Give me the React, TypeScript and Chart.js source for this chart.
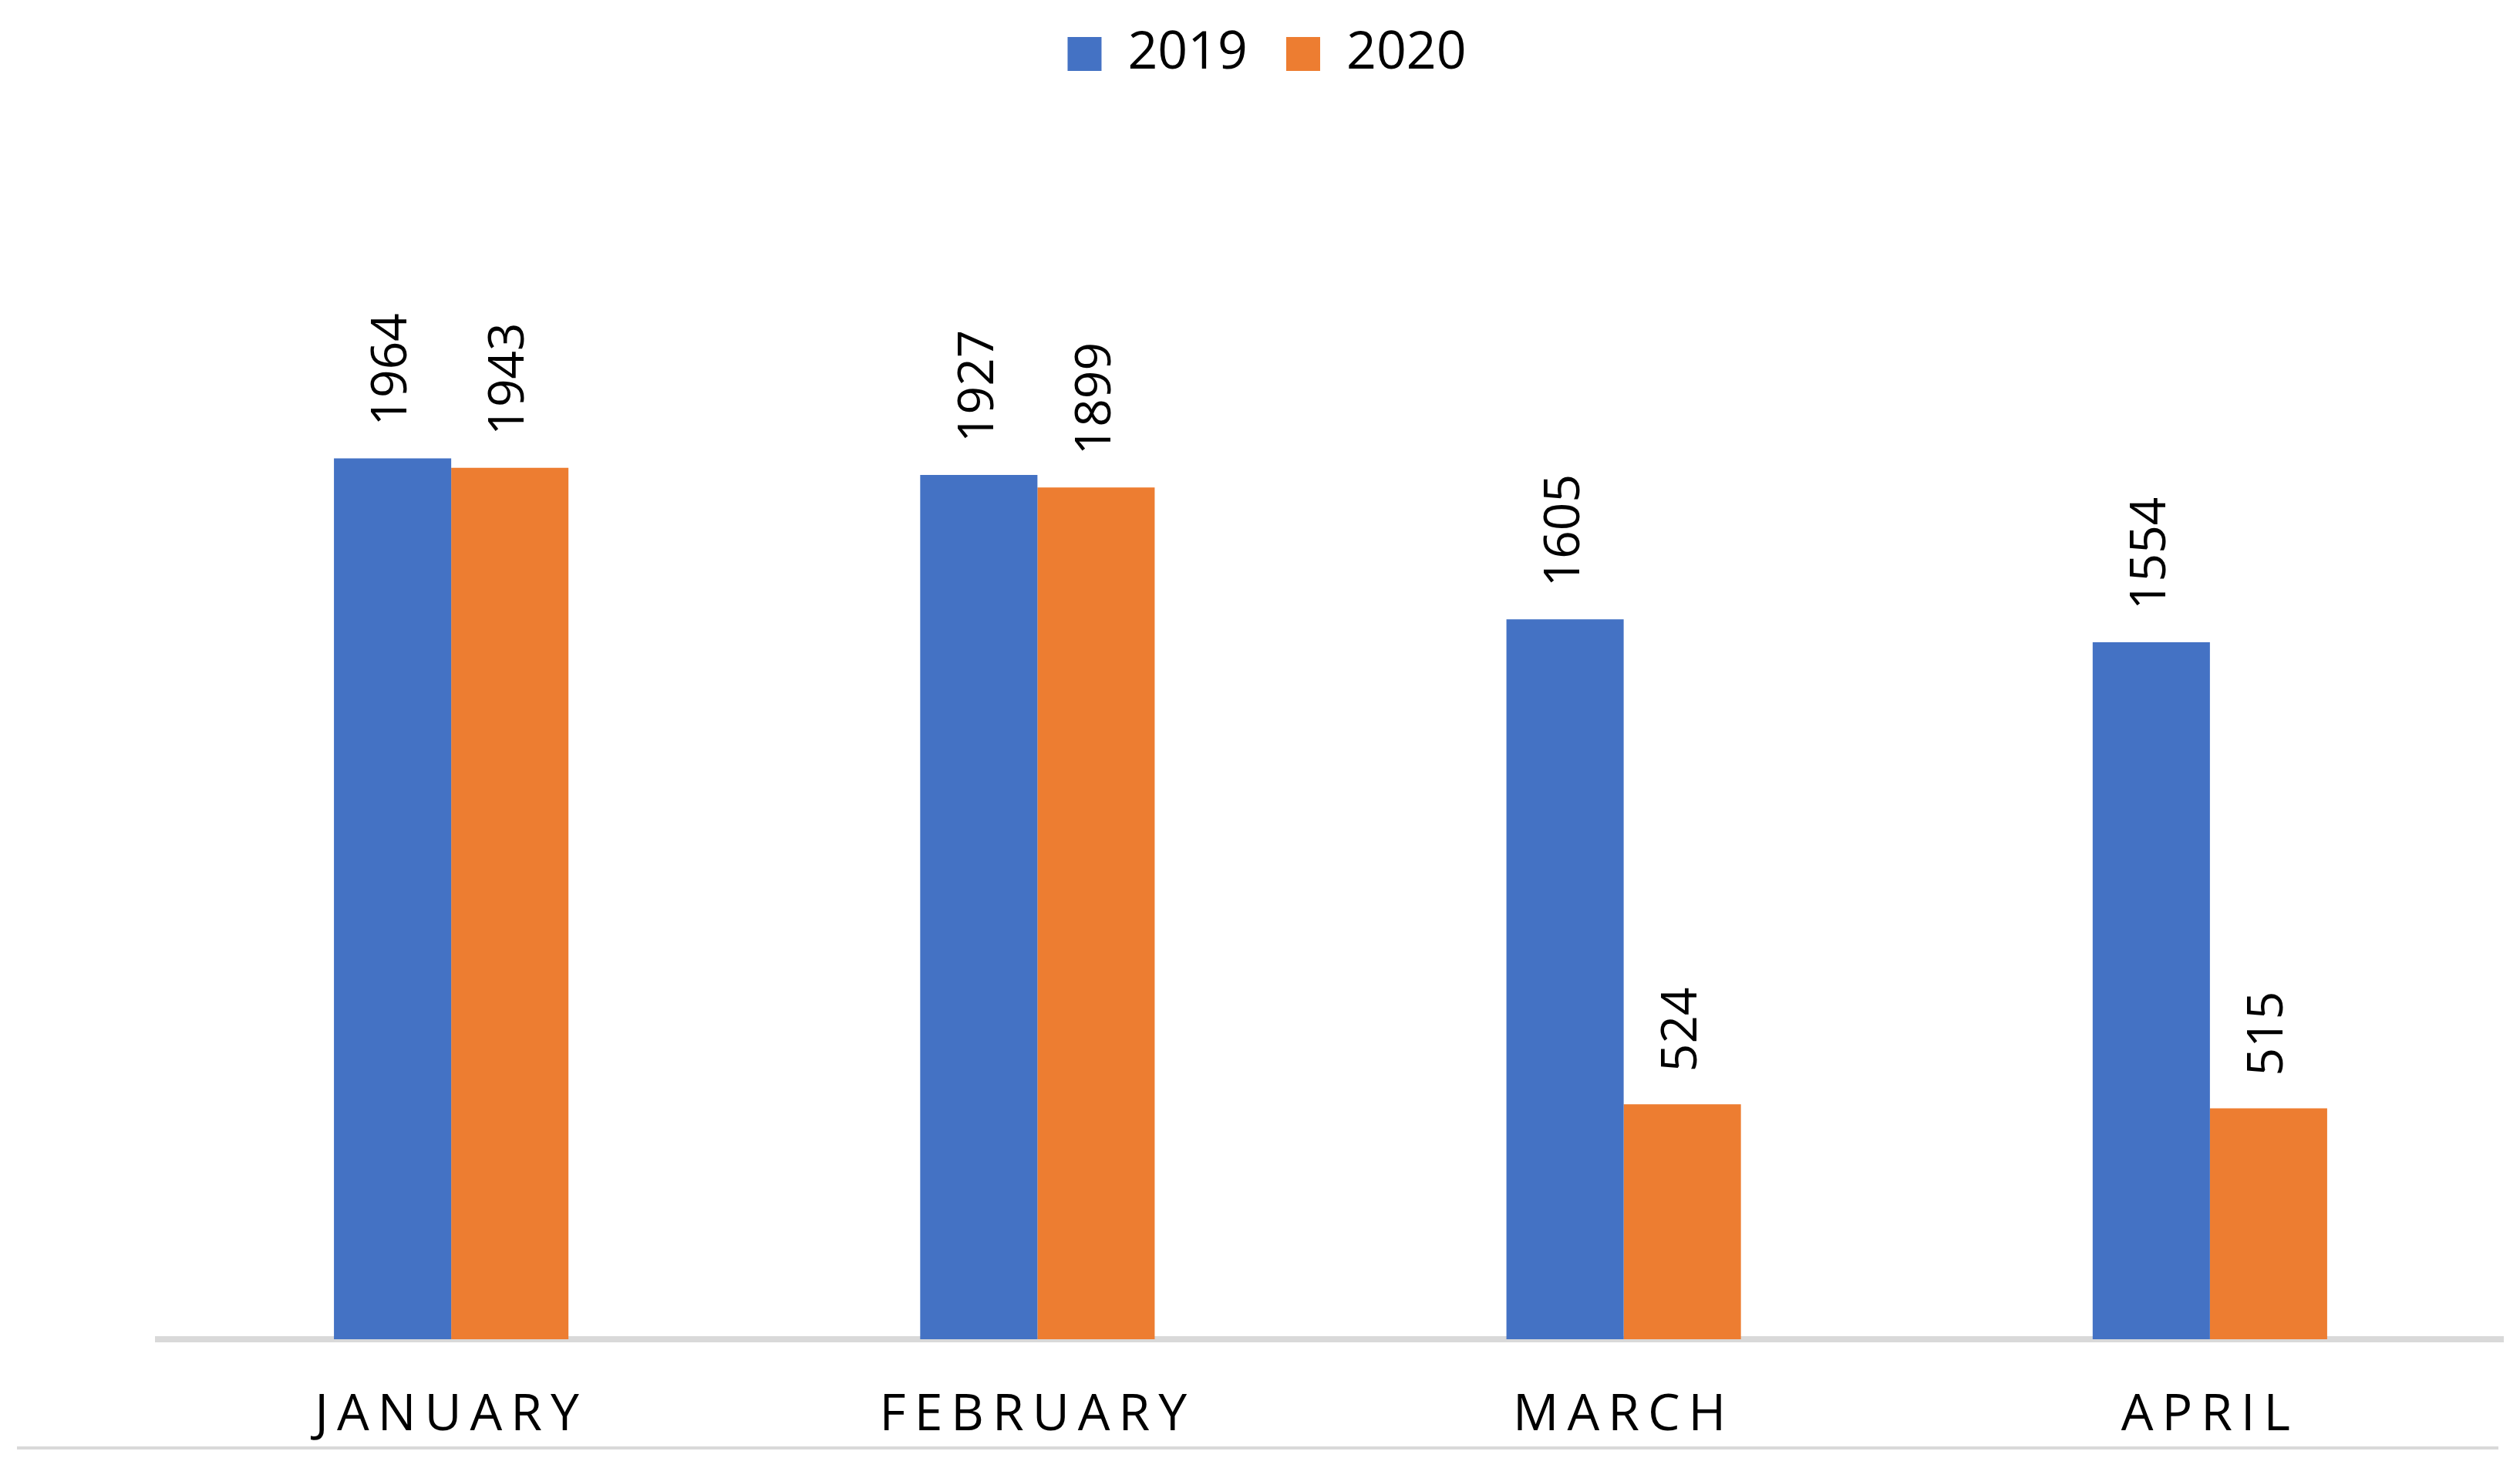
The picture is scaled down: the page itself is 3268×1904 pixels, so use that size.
import React, { useEffect, useRef } from "react";
import { Chart, registerables } from "chart.js";

Chart.register(...registerables);

const categories = ["JANUARY", "FEBRUARY", "MARCH", "APRIL"];
const seriesNames = ["2019", "2020"];
const values2019 = [1964, 1927, 1605, 1554];
const values2020 = [1943, 1899, 524, 515];
const seriesColors = ["#4472C4", "#ED7D31"];

const FONT = "'Open Sans', 'Noto Sans', sans-serif";

const rotatedLabels = {
  id: "rotatedLabels",
  afterDatasetsDraw(chart: any) {
    const ctx = chart.ctx;
    chart.data.datasets.forEach((ds: any, di: number) => {
      const meta = chart.getDatasetMeta(di);
      meta.data.forEach((el: any, i: number) => {
        const v = ds.data[i];
        ctx.save();
        ctx.translate(el.x, el.y - 42);
        ctx.rotate(-Math.PI / 2);
        ctx.font = `64px ${FONT}`;
        ctx.fillStyle = "#000";
        ctx.textAlign = "left";
        ctx.textBaseline = "middle";
        ctx.fillText(String(v), 0, 0);
        ctx.restore();
      });
    });
  },
};

const spacedTicks = {
  id: "spacedTicks",
  beforeDraw(chart: any) {
    const xs: any = chart.scales.x;
    if (xs && !xs.__spaced) {
      const orig = xs.drawLabels.bind(xs);
      xs.drawLabels = (area: any) => {
        const c = xs.ctx;
        c.save();
        c.letterSpacing = "11px";
        orig(area);
        c.restore();
      };
      xs.__spaced = true;
    }
  },
  afterDraw(chart: any) {
    const ctx = chart.ctx;
    const xs: any = chart.scales.x;
    ctx.save();
    ctx.strokeStyle = "#d9d9d9";
    ctx.lineWidth = 4;
    ctx.beginPath();
    ctx.moveTo(22, chart.height - 26);
    ctx.lineTo(xs.right - 6, chart.height - 26);
    ctx.stroke();
    ctx.restore();
  },
};

export default function App() {
  const ref = useRef<HTMLCanvasElement | null>(null);
  useEffect(() => {
    document.body.style.margin = "0";
    const chart = new Chart(ref.current as HTMLCanvasElement, {
      type: "bar",
      data: {
        labels: categories,
        datasets: [
          { label: seriesNames[0], data: values2019, backgroundColor: seriesColors[0] },
          { label: seriesNames[1], data: values2020, backgroundColor: seriesColors[1] },
        ],
      },
      options: {
        animation: false,
        responsive: true,
        maintainAspectRatio: false,
        devicePixelRatio: 1,
        layout: { padding: { left: 40, right: 22, top: -14, bottom: 27 } },
        datasets: { bar: { categoryPercentage: 0.4, barPercentage: 1 } },
        plugins: {
          legend: {
            position: "top",
            labels: {
              boxWidth: 44,
              boxHeight: 44,
              padding: 50,
              color: "#000",
              font: { family: FONT, size: 68 },
            },
          },
          tooltip: { enabled: false },
        },
        scales: {
          x: {
            grid: { display: false, drawTicks: false },
            border: { display: true, color: "#d9d9d9", width: 8 },
            ticks: { color: "#000", padding: 60, font: { family: FONT, size: 66 } },
            afterFit: (s: any) => { s.height = 140; },
          },
          y: {
            display: true,
            min: 0,
            max: 2790,
            grid: { display: false, drawTicks: false },
            border: { display: false },
            ticks: { display: false },
            afterFit: (s: any) => { s.width = 165; },
          },
        },
      },
      plugins: [rotatedLabels, spacedTicks],
    });
    return () => chart.destroy();
  }, []);
  return (
    <div style={{ width: "3268px", height: "1904px", position: "relative", background: "#fff" }}>
      <canvas ref={ref} />
    </div>
  );
}
